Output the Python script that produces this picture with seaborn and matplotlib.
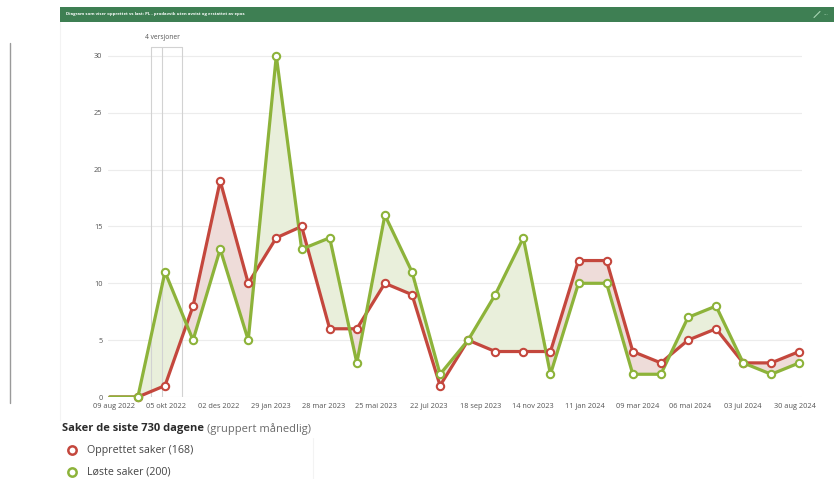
"""Opprettet vs løste saker, gruppert månedlig."""

import numpy as np
import pandas as pd
import matplotlib
matplotlib.use("Agg")
import matplotlib.pyplot as plt
import matplotlib.dates as mdates
import seaborn as sns
from matplotlib.patches import Rectangle
from matplotlib.lines import Line2D


# Data (one point per month).
dates = ["2022-08-04", "2022-09-04", "2022-10-04", "2022-11-04", "2022-12-04",
         "2023-01-04", "2023-02-04", "2023-03-04", "2023-04-04", "2023-05-04",
         "2023-06-04", "2023-07-04", "2023-08-04", "2023-09-04", "2023-10-04",
         "2023-11-04", "2023-12-04", "2024-01-04", "2024-02-04", "2024-03-04",
         "2024-04-04", "2024-05-04", "2024-06-04", "2024-07-04", "2024-08-04",
         "2024-09-04"]
opprettet = [0, 0, 1, 8, 19, 10, 14, 15, 6, 6, 10, 9, 1, 5, 4, 4, 4, 12, 12, 4, 3, 5, 6, 3, 3, 4]
loste = [0, 0, 11, 5, 13, 5, 30, 13, 14, 3, 16, 11, 2, 5, 9, 14, 2, 10, 10, 2, 2, 7, 8, 3, 2, 3]

tick_dates = ["2022-08-09", "2022-10-05", "2022-12-02", "2023-01-29", "2023-03-28",
              "2023-05-25", "2023-07-22", "2023-09-18", "2023-11-14", "2024-01-11",
              "2024-03-09", "2024-05-06", "2024-07-03", "2024-08-30"]
tick_labels = ["09 aug 2022", "05 okt 2022", "02 des 2022", "29 jan 2023", "28 mar 2023",
               "25 mai 2023", "22 jul 2023", "18 sep 2023", "14 nov 2023", "11 jan 2024",
               "09 mar 2024", "06 mai 2024", "03 jul 2024", "30 aug 2024"]
y_ticks = [0, 5, 10, 15, 20, 25, 30]

version_lines = ["2022-09-18", "2022-10-01", "2022-10-23"]
version_label = "4 versjoner"

title = "Diagram som viser opprettet vs løst: PL - prodavvik uten avvist og erstattet av epos"
legend_title = "Saker de siste 730 dagene"
legend_sub = "(gruppert månedlig)"
series_names = ["Opprettet saker (168)", "Løste saker (200)"]

RED = "#c4473d"
GREEN = "#8db33a"
RED_FILL = "#eedcd9"
GREEN_FILL = "#e9efdb"

df = pd.DataFrame({"dato": pd.to_datetime(dates), "Opprettet": opprettet, "Loste": loste})


# Figure.
sns.set_theme(style="white")
plt.rcParams["font.family"] = ["Open Sans", "DejaVu Sans"]

fig = plt.figure(figsize=(8.34, 4.79), dpi=100)
fig.patch.set_facecolor("white")
W, H = 834, 479

ax = fig.add_axes([108 / W, (H - 397) / H, (802 - 108) / W, (397 - 47) / H])

x = mdates.date2num(df["dato"])
red = np.array(opprettet, dtype=float)
green = np.array(loste, dtype=float)

# Shaded difference between the two series.
ax.fill_between(x, red, green, where=red >= green, interpolate=True, color=RED_FILL, lw=0, zorder=1)
ax.fill_between(x, red, green, where=green >= red, interpolate=True, color=GREEN_FILL, lw=0, zorder=1)

# Version markers.
vx = mdates.date2num(pd.to_datetime(version_lines))
for v in vx:
    ax.axvline(v, color="#d2d2d2", lw=0.8, zorder=1.5)
ax.plot([vx[0], vx[-1]], [30.78, 30.78], color="#d2d2d2", lw=0.8, clip_on=False, zorder=1.5)
ax.text(vx[1], 31.6, version_label, ha="center", va="center", fontsize=4.8, color="#555555")

# Lines.
sns.lineplot(data=df, x="dato", y="Opprettet", color=RED, lw=2.3, ax=ax, zorder=3)
sns.lineplot(data=df, x="dato", y="Loste", color=GREEN, lw=2.3, ax=ax, zorder=4)

# Open markers (the first point has none).
sns.scatterplot(data=df.iloc[1:], x="dato", y="Opprettet", marker="o", s=28, facecolor="white",
                edgecolor=RED, linewidth=1.5, ax=ax, zorder=5, clip_on=False)
sns.scatterplot(data=df.iloc[1:], x="dato", y="Loste", marker="o", s=28, facecolor="white",
                edgecolor=GREEN, linewidth=1.5, ax=ax, zorder=6, clip_on=False)
for c in ax.collections:
    c.set_clip_on(False)

ax.set_xlim(mdates.date2num(pd.Timestamp("2022-08-02")), mdates.date2num(pd.Timestamp("2024-09-07")))
ax.set_ylim(0, 30.78)
ax.set_yticks(y_ticks)
ax.set_yticklabels([str(t) for t in y_ticks])
ax.set_xticks(mdates.date2num(pd.to_datetime(tick_dates)))
ax.set_xticklabels(tick_labels)
ax.tick_params(axis="both", length=0, labelsize=5.3, colors="#555555", pad=4)
ax.grid(axis="y", color="#ececec", lw=0.8)
ax.grid(axis="x", visible=False)
ax.set_xlabel("")
ax.set_ylabel("")
ax.set_axisbelow(True)
for s in ax.spines.values():
    s.set_visible(False)
ax.set_facecolor("none")

# Header bar.
fig.patches.append(Rectangle((60 / W, 1 - 22 / H), (W - 60) / W, 15 / H, transform=fig.transFigure,
                             facecolor="#3e7f53", edgecolor="none", zorder=0))
fig.text(66 / W, 1 - 14.5 / H, title, color="white", fontsize=3.1, fontweight="bold",
         va="center", ha="left")
# Expand icon (small diagonal arrow) and menu dots.
fig.add_artist(Line2D([814 / W, 820 / W], [1 - 17.5 / H, 1 - 11.5 / H], transform=fig.transFigure,
                      color="#a9d6b4", lw=0.8))
fig.text(824 / W, 1 - 14.5 / H, "···", color="#a9d6b4", fontsize=4.6, va="center", ha="left")

# Left frame lines.
fig.add_artist(Line2D([10 / W, 10 / W], [1 - 43 / H, 1 - 403 / H], transform=fig.transFigure,
                      color="#9a9a9a", lw=1))
fig.add_artist(Line2D([60 / W, 60 / W], [1 - 22 / H, 1 - 420 / H], transform=fig.transFigure,
                      color="#f3f3f3", lw=0.8))
fig.add_artist(Line2D([313 / W, 313 / W], [1 - 438 / H, 0], transform=fig.transFigure,
                      color="#f3f3f3", lw=0.8))

# Legend.
t = fig.text(62 / W, 1 - 429 / H, legend_title, fontsize=8.0, fontweight="bold", color="#2b2b2b",
             va="center", ha="left")
fig.canvas.draw()
bb = t.get_window_extent()
fig.text(bb.x1 / W + 3 / W, 1 - 429 / H, legend_sub, fontsize=8.0, color="#6a6a6a", va="center", ha="left")

for i, (name, col) in enumerate(zip(series_names, [RED, GREEN])):
    yy = 1 - (450 + 22 * i) / H
    fig.add_artist(Line2D([72 / W], [yy], transform=fig.transFigure, marker="o", markersize=6,
                          markerfacecolor="white", markeredgecolor=col, markeredgewidth=1.8, lw=0))
    fig.text(87 / W, yy, name, fontsize=7.7, color="#444444", va="center", ha="left")

fig.savefig("out.png", dpi=100, facecolor="white")
